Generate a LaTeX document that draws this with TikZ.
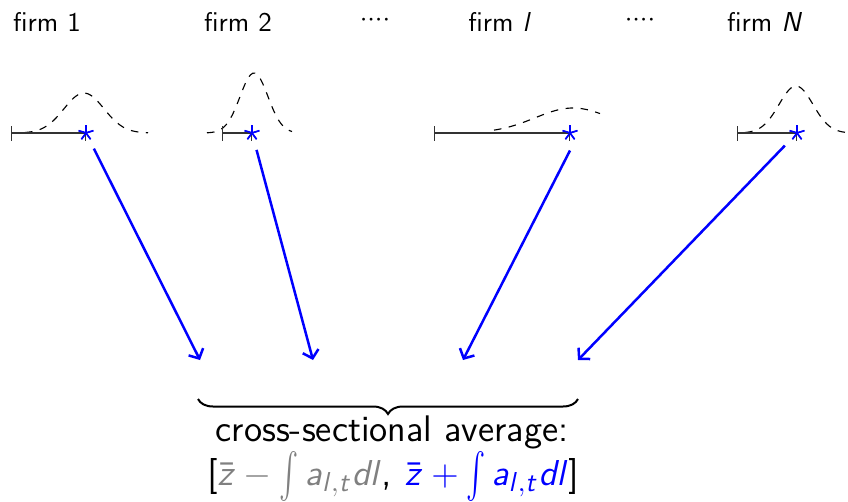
\documentclass[tikz,border=0pt]{standalone}
\usepackage{graphicx}
\usetikzlibrary{arrows.meta,positioning,decorations.pathreplacing}
\SetSymbolFont{operators}{normal}{OT1}{cmss}{m}{n}
\DeclareSymbolFont{sfletters}{OT1}{cmss}{m}{sl}
\DeclareMathSymbol{a}{\mathalpha}{sfletters}{`a}
\DeclareMathSymbol{d}{\mathalpha}{sfletters}{`d}
\DeclareMathSymbol{l}{\mathalpha}{sfletters}{`l}
\DeclareMathSymbol{t}{\mathalpha}{sfletters}{`t}
\DeclareMathSymbol{z}{\mathalpha}{sfletters}{`z}
\DeclareMathSymbol{N}{\mathalpha}{sfletters}{`N}
\newcommand{\tallint}{\mathop{\vcenter{\hbox{\scalebox{1.15}[1.8]{$\int$}}}}\nolimits}

\begin{document}
\begin{tikzpicture}[x=0.4pt,y=-0.4pt,
  firmlabel/.style={font=\sffamily\fontsize{10.8}{13}\selectfont},
  sumtext/.style={font=\sffamily\fontsize{14.8}{17}\selectfont},
  spread/.style={draw=black!80,line width=0.5pt,{Bar[width=6pt]}-{Bar[width=6pt]}},
  density/.style={dashed,line width=0.45pt,smooth,samples=40},
  starmark/.style={circle,inner sep=0pt,minimum size=13.6pt,
    path picture={\foreach \a in {90,162,234,306,378}
      \draw[blue,line width=0.6pt] (path picture bounding box.center) -- ++(\a:3.1pt);}},
  arrow/.style={-{Straight Barb[length=3pt,width=6.5pt]},draw=blue,line width=1pt}
]
\useasboundingbox (0,0) rectangle (848,501);
% labels
\node[firmlabel] (f1) at (47,22) {firm 1};
\node[firmlabel] (f2) at (238,22) {firm 2};
\node[firmlabel] (d1) at (375,20) {${\cdot}{\cdot}{\cdot}{\cdot}$};
\node[firmlabel] (fl) at (500,22) {firm $l$};
\node[firmlabel] (d2) at (640,20) {${\cdot}{\cdot}{\cdot}{\cdot}$};
\node[firmlabel] (fN) at (765,22) {firm $N$};
% densities
\draw[density] plot[domain=25:148] (\x,{133-40*exp(-((\x-84)/20)^2/2)});
\draw[density] plot[domain=207:292] (\x,{133-60*exp(-((\x-254)/14)^2/2)});
\draw[density] plot[domain=494:600] (\x,{133-25*exp(-((\x-573)/38)^2/2)});
\draw[density] plot[domain=745:845] (\x,{133-47*exp(-((\x-796)/17)^2/2)});
% ranges and stars
\node[starmark] (s1) at (86,133) {};
\node[starmark] (s2) at (252,133) {};
\node[starmark] (s3) at (570,133) {};
\node[starmark] (s4) at (797,133) {};
\coordinate (r1) at (11,133);
\coordinate (r2) at (222,133);
\coordinate (r3) at (434,133);
\coordinate (r4) at (737,133);
\draw[spread] (r1) -- (s1.center);
\draw[spread] (r2) -- (s2.center);
\draw[spread] (r3) -- (s3.center);
\draw[spread] (r4) -- (s4.center);
\foreach \s in {s1,s2,s3,s4}
  \node[starmark] at (\s) {};
% arrows
\coordinate (e1) at (200,360);
\coordinate (e2) at (313,360);
\coordinate (e3) at (463,360);
\coordinate (e4) at (578,360);
\draw[arrow] (s1) -- (e1);
\draw[arrow] (s2) -- (e2);
\draw[arrow] (s3.south) -- (e3);
\draw[arrow] (s4) -- (e4);
% brace and average
\coordinate (bl) at (198,399);
\coordinate (br) at (578,399);
\draw[decorate,decoration={brace,mirror,amplitude=6pt},line width=0.8pt] (bl) -- (br);
\node[sumtext] (avg) at (392,432) {cross-sectional average:};
\node[font=\sffamily\fontsize{15.4}{18}\selectfont] (band) at (393,476) {$[\textcolor{gray}{\bar z-\tallint a_{l,t}dl}$, $\textcolor{blue}{\bar z+\tallint a_{l,t}dl}]$};
\end{tikzpicture}
\end{document}
